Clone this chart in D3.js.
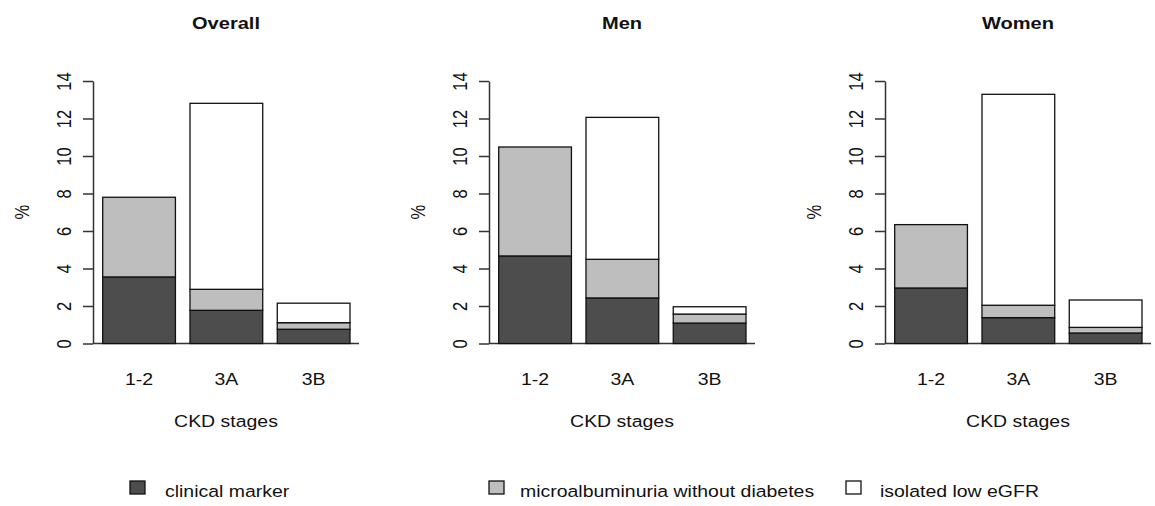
<!DOCTYPE html>
<html>
<head>
<meta charset="utf-8">
<script src="https://cdn.jsdelivr.net/npm/d3@7"></script>
<style>
  body { margin: 0; background: #fff; }
  text { font-family: "Liberation Sans", Arial, sans-serif; fill: #111; }
</style>
</head>
<body>
<div id="chart"></div>
<script>
// data (percent)
const stages = ["1-2", "3A", "3B"];
const panels = ["Overall", "Men", "Women"];
const seriesNames = ["clinical marker", "microalbuminuria without diabetes", "isolated low eGFR"];

const overallClinical = [3.55, 1.77, 0.76];
const overallMicro = [4.25, 1.12, 0.35];
const overallLowEgfr = [0, 9.92, 1.04];

const menClinical = [4.67, 2.43, 1.09];
const menMicro = [5.81, 2.06, 0.48];
const menLowEgfr = [0, 7.57, 0.39];

const womenClinical = [2.96, 1.38, 0.56];
const womenMicro = [3.38, 0.66, 0.30];
const womenLowEgfr = [0, 11.25, 1.46];

const yTicks = [0, 2, 4, 6, 8, 10, 12, 14];

const panelSeries = {
  Overall: [overallClinical, overallMicro, overallLowEgfr],
  Men: [menClinical, menMicro, menLowEgfr],
  Women: [womenClinical, womenMicro, womenLowEgfr],
};

// metrics
const width = 1155;
const height = 506;
const axisXs = [93, 489, 885];
const plotTop = 81;
const plotBottom = 343.5;
const sx = 1.18; // text in the picture is a bit wider than tall
const fills = ["#4d4d4d", "#bebebe", "#ffffff"];
const axisColor = "#333";

const svg = d3.select("#chart")
  .append("svg")
  .attr("width", width)
  .attr("height", height);

function label(g, str, x, y, opts = {}) {
  return g.append("text")
    .attr("transform", `translate(${x},${y}) scale(${sx},1)` + (opts.rotate ? ` rotate(${opts.rotate})` : ""))
    .attr("text-anchor", opts.anchor || "middle")
    .attr("dy", opts.dy || 0)
    .style("font-size", (opts.size || 16.5) + "px")
    .style("font-weight", opts.bold ? "bold" : "normal")
    .text(str);
}

const yScale = d3.scaleLinear().domain([0, 14]).range([plotBottom, plotTop]);

panels.forEach((name, p) => {
  const ax = axisXs[p];
  const g = svg.append("g");

  const xScale = d3.scaleBand()
    .domain(stages)
    .range([ax + 9.7, ax + 257])
    .paddingInner(1 / 6)
    .paddingOuter(0);

  // stacked rows
  const rows = stages.map((s, i) => {
    const row = { stage: s };
    seriesNames.forEach((k, j) => { row[k] = panelSeries[name][j][i]; });
    return row;
  });
  const stacked = d3.stack().keys(seriesNames)(rows);

  // baseline
  g.append("line")
    .attr("x1", ax).attr("x2", ax + 266)
    .attr("y1", yScale(0)).attr("y2", yScale(0))
    .attr("stroke", axisColor).attr("stroke-width", 1.5);

  g.append("g")
    .selectAll("g")
    .data(stacked)
    .join("g")
    .attr("fill", (d, j) => fills[j])
    .selectAll("rect")
    .data((d) => d)
    .join("rect")
    .attr("x", (d) => xScale(d.data.stage))
    .attr("width", xScale.bandwidth())
    .attr("y", (d) => yScale(d[1]))
    .attr("height", (d) => yScale(d[0]) - yScale(d[1]))
    .attr("stroke", "#111")
    .attr("stroke-width", 1.3);

  // y axis
  const yAxis = d3.axisLeft(yScale).tickValues(yTicks).tickSizeInner(10).tickSizeOuter(0);
  const yg = g.append("g")
    .attr("transform", `translate(${ax},0)`)
    .call(yAxis);
  yg.select(".domain").attr("stroke", axisColor).attr("stroke-width", 1.5);
  yg.selectAll(".tick line").attr("stroke", axisColor).attr("stroke-width", 1.5);
  yg.selectAll(".tick text")
    .attr("x", null).attr("dy", "0.36em")
    .attr("text-anchor", "middle")
    .attr("transform", `translate(-29,0) scale(${sx},1) rotate(-90)`)
    .style("font-family", '"Liberation Sans", Arial, sans-serif')
    .style("font-size", "16.5px")
    .attr("fill", "#111");

  // x axis labels
  const xAxis = d3.axisBottom(xScale).tickSize(0);
  const xg = g.append("g")
    .attr("transform", `translate(0,${plotBottom})`)
    .call(xAxis);
  xg.select(".domain").remove();
  xg.selectAll(".tick text")
    .attr("y", null).attr("dy", null)
    .attr("transform", `translate(0,41) scale(${sx},1)`)
    .style("font-family", '"Liberation Sans", Arial, sans-serif')
    .style("font-size", "16.5px")
    .attr("fill", "#111");

  // titles
  label(g, name, ax + 133, 29, { bold: true, size: 17 });
  label(g, "CKD stages", ax + 133, 427);
  label(g, "%", ax - 71, yScale(7), { rotate: -90, dy: "0.36em" });
});

// legend
const legendXs = [130, 489, 846];
const legendTextXs = [165, 520, 880];
const legend = svg.append("g");
seriesNames.forEach((k, j) => {
  legend.append("rect")
    .attr("x", legendXs[j]).attr("y", 481)
    .attr("width", 15).attr("height", 13)
    .attr("fill", fills[j])
    .attr("stroke", "#111").attr("stroke-width", 1.3);
  label(legend, k, legendTextXs[j], 497, { anchor: "start" });
});
</script>
</body>
</html>
